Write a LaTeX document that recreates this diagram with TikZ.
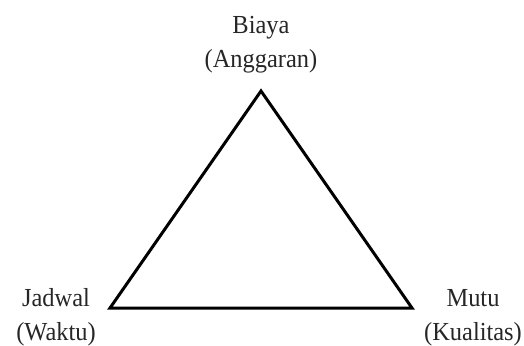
\documentclass[tikz,border=0pt]{standalone}
\usepackage{fontspec}
\setmainfont{Liberation Serif}[FakeStretch=0.94]
\begin{document}
\begin{tikzpicture}[x=1pt,y=-1pt,
  lbl/.style={align=center,inner sep=0pt,font=\fontsize{26}{33.5}\selectfont,text=black!85},
  tri/.style={line width=3pt,line join=miter}]
\useasboundingbox (0,0) rectangle (524,345);
\coordinate (A) at (261,91);
\coordinate (B) at (110,308);
\coordinate (C) at (412,308);
\draw[tri] (A) -- (B) -- (C) -- cycle;
\node[lbl,anchor=base] (biaya) at (261,67) {Biaya\\(Anggaran)};
\node[lbl,anchor=base] (jadwal) at (56,340) {Jadwal\\(Waktu)};
\node[lbl,anchor=base] (mutu) at (473,340) {Mutu\\(Kualitas)};
\end{tikzpicture}
\end{document}
